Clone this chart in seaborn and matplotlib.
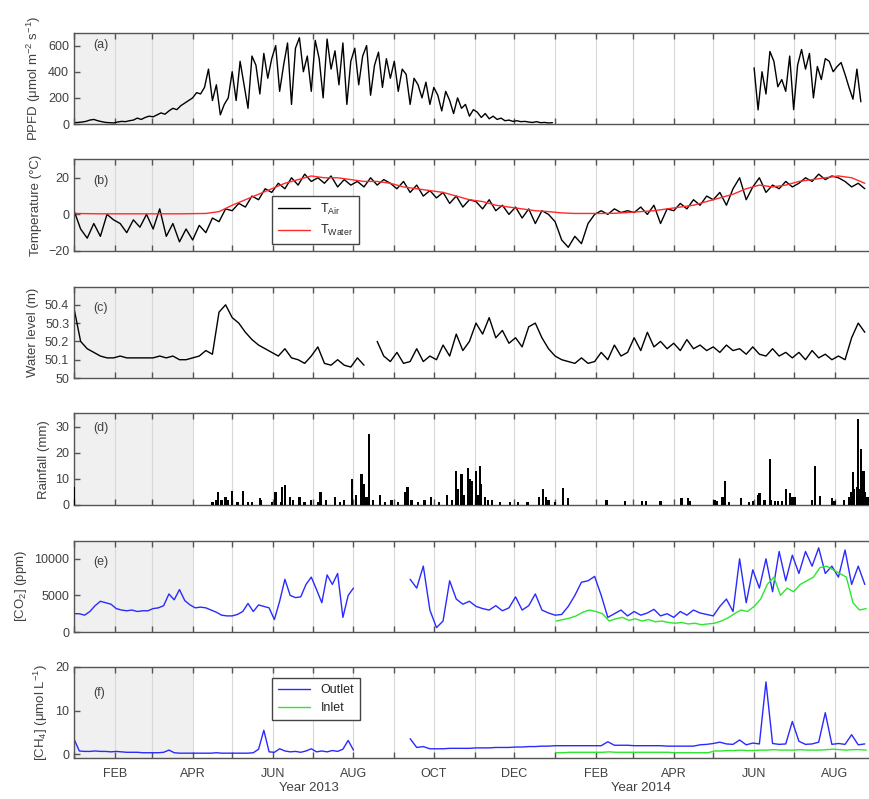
import numpy as np
import pandas as pd
import seaborn as sns
import matplotlib.pyplot as plt
import matplotlib.dates as mdates
from matplotlib.transforms import blended_transform_factory

start = pd.Timestamp('2013-01-01')

# (a) PPFD: 3-day values through 2013, 3-day values from 1 Jun 2014
ppfd_2013 = [10, 12, 15, 20, 30, 35, 25, 18, 12, 10, 8,
             15, 20, 18, 25, 30, 45, 35, 50, 60,
             55, 70, 85, 75, 100, 120, 110, 140, 160, 180, 200,
             240, 230, 280, 420, 180, 300, 70, 150, 200,
             400, 180, 480, 300, 120, 520, 450, 230, 540, 350, 500,
             600, 250, 450, 620, 150, 580, 660, 400, 520, 250,
             640, 500, 200, 650, 420, 560, 300, 620, 150, 480,
             580, 300, 520, 600, 220, 450, 550, 280, 500, 350,
             480, 250, 420, 380, 150, 350, 300, 200, 320, 150,
             280, 220, 100, 250, 180, 80, 200, 120, 150, 60, 110,
             90, 50, 80, 40, 60, 35, 45, 25, 30, 20,
             25, 18, 20, 15, 12, 18, 10, 12, 8, 10]
ppfd_2014 = [430, 108, 400, 230, 555, 480, 285, 340, 250, 520, 110, 450, 570, 420,
             540, 200, 440, 340, 500, 480, 400, 440, 470, 380, 280, 190, 420, 170]

# (b) temperature: air every 5 days, water every 10 days (from 1 Jan 2013)
t_air = [2, -8, -13, -5, -12, 0, -3,
         -5, -10, -3, -7, 0,
         -8, 3, -12, -5, -15, -8,
         -14, -6, -10, -2, -4, 3,
         2, 6, 4, 10, 8, 14, 12,
         17, 14, 20, 16, 22, 18,
         20, 17, 21, 15, 19, 16,
         18, 15, 20, 16, 19, 17,
         14, 18, 12, 16, 10, 13,
         9, 12, 6, 10, 4, 8,
         7, 3, 8, 2, 5, 0,
         4, -2, 3, -5, 2, 0,
         -4, -14, -18, -12, -16, -5, 0,
         2, 0, 3, 1, 2,
         1, 4, 0, 5, -5, 3,
         2, 6, 3, 8, 5, 10,
         8, 12, 5, 14, 20, 8, 15,
         20, 12, 16, 14, 18, 15,
         17, 20, 18, 22, 19, 21,
         20, 18, 15, 17, 14]
t_water = [0.5, 0.4, 0.3, 0.3, 0.3, 0.3, 0.3, 0.3, 0.3, 0.4, 0.5,
           1.5, 5, 8, 11, 14, 17, 19, 21, 20, 20, 19, 18, 18, 17, 15, 14, 13, 12, 10,
           8, 7, 5, 4, 3, 2, 1.5, 0.8, 0.5, 0.5, 0.5, 0.6, 1, 1.5, 2, 3, 4, 5, 7, 9,
           11, 14, 16, 15, 16, 18, 19, 20, 21, 20, 17]

# (c) water level every 5 days, gap in Aug 2013
wl_a = [50.38, 50.20, 50.16, 50.14, 50.12, 50.11, 50.11,
        50.12, 50.11, 50.11, 50.11, 50.11,
        50.11, 50.12, 50.11, 50.12, 50.10, 50.10,
        50.11, 50.12, 50.15, 50.13, 50.36, 50.40,
        50.33, 50.30, 50.25, 50.21, 50.18, 50.16, 50.14,
        50.12, 50.16, 50.11, 50.10, 50.08, 50.12,
        50.17, 50.08, 50.07, 50.10, 50.07, 50.06,
        50.11, 50.07]
wl_b = [50.20, 50.12, 50.09,
        50.14, 50.08, 50.09, 50.16, 50.09, 50.12,
        50.10, 50.18, 50.12, 50.24, 50.15, 50.20,
        50.30, 50.24, 50.33, 50.22, 50.26, 50.19,
        50.22, 50.17, 50.28, 50.30, 50.22, 50.16,
        50.12, 50.10, 50.09, 50.08, 50.11, 50.08, 50.09,
        50.14, 50.10, 50.18, 50.12, 50.14,
        50.22, 50.15, 50.25, 50.17, 50.20, 50.16,
        50.19, 50.15, 50.21, 50.16, 50.18, 50.15,
        50.17, 50.14, 50.18, 50.15, 50.16, 50.13, 50.17,
        50.13, 50.12, 50.16, 50.12, 50.14, 50.11,
        50.14, 50.10, 50.15, 50.11, 50.13, 50.10,
        50.12, 50.10, 50.22, 50.30, 50.25]

# (d) daily rainfall events (day number from 1 Jan 2013, mm)
rain_day = [0, 105, 108, 109, 112, 115, 117, 120, 124, 128, 132, 135, 141, 142, 150, 153,
            157, 158, 160, 164, 166, 171, 175, 180, 185, 187, 191, 198, 202, 205, 211, 214,
            218, 220, 222, 224, 227, 232, 236, 241, 246, 251, 253, 256, 261, 266, 271, 277,
            283, 287, 290, 291, 294, 296, 299, 300, 302, 305, 306, 308, 309, 312, 314, 317,
            323, 331, 337, 344, 353, 356, 358, 360, 365, 371, 375, 404, 418, 431, 434, 445,
            461, 466, 467, 486, 488, 492, 494, 497, 506, 512, 515, 519, 520, 524, 528, 529,
            532, 534, 537, 540, 543, 545, 547, 560, 562, 566, 575, 577, 584, 588, 590, 591,
            592, 594, 595, 596, 597, 599, 600, 602]
rain_mm = [7, 1, 2, 5, 2, 3, 2, 5.5, 1, 5.5, 1, 1, 2.5, 2, 1, 5,
           1, 7, 7.5, 3, 2, 3, 1, 2, 1, 5, 2, 3, 1, 2, 10, 4,
           12, 8, 3, 27, 2, 4, 1, 2, 1, 5, 7, 2, 1, 2, 3, 1,
           4, 2, 13, 6, 12, 4, 14, 10, 9, 13, 4, 15, 8, 3, 2, 2,
           1, 1, 1, 1, 3, 6, 3, 2, 1, 6.5, 2.5, 2, 1.5, 1.5, 1.5, 1.5,
           2.5, 2.5, 1.5, 2, 1.5, 3, 9, 1, 2.5, 1, 1.5, 4, 4.5, 2, 17.5, 2,
           1.5, 1.5, 1.5, 6, 4.5, 3, 3, 2, 15, 3.5, 2.5, 1.5, 2, 3, 5, 12.5,
           6, 7, 33, 6, 21.5, 13, 5, 3]

# (e) CO2 outlet (4-day to Aug 2013, 5-day from mid Sep), inlet 5-day from Jan 2014
co2_out_a = [2500, 2500, 2300, 2800, 3600, 4200, 4000, 3800, 3200, 3000,
             2900, 3000, 2800, 2900, 2900, 3200, 3300, 3600, 5200, 4400,
             5800, 4300, 3700, 3300, 3400, 3300, 3000, 2700, 2300, 2200,
             2200, 2400, 2800, 3900, 2800, 3700, 3500, 3300, 1700, 4200,
             7200, 5000, 4700, 4800, 6500, 7500, 5800, 4000, 7800, 6500,
             8000, 2000, 5000, 6000]
co2_out_b = [7200, 6000, 9000, 3000, 600, 1500, 7000, 4500, 3800, 4200,
             3500, 3200, 3000, 3600, 2900, 3300, 4800, 3000, 3600, 5200,
             3000, 2600, 2300, 2400, 3500, 5000, 6800, 7000, 7600, 5000,
             2000, 2500, 3000, 2200, 2800, 2300, 2600, 3100, 2200, 2500,
             2000, 2800, 2300, 3000, 2600, 2400, 2200, 3500, 4500, 2800,
             10000, 4000, 8500, 6000, 10000, 5500, 11000, 7000, 10500, 8000,
             11000, 9000, 11500, 8000, 9000, 7500, 11200, 6500, 9000, 6500]
co2_in = [1500, 1700, 1900, 2200, 2700, 3000, 2800, 2500, 1500, 1800,
          2000, 1600, 1800, 1500, 1700, 1400, 1500, 1300, 1200, 1300,
          1100, 1200, 1000, 1100, 1200, 1500, 1900, 2500, 3000, 2800,
          3500, 4500, 6500, 7500, 5000, 6000, 5500, 6500, 7000, 7500,
          8800, 9000, 8500, 8000, 7500, 4000, 3000, 3200]

# (f) CH4, same sampling as CO2
ch4_out_a = [3.5, 0.8, 0.7, 0.7, 0.8, 0.7, 0.7, 0.6, 0.7, 0.6,
             0.5, 0.5, 0.5, 0.4, 0.4, 0.4, 0.4, 0.5, 1.0, 0.4,
             0.3, 0.3, 0.3, 0.3, 0.3, 0.3, 0.3, 0.4, 0.3, 0.3,
             0.3, 0.3, 0.3, 0.3, 0.4, 1.2, 5.5, 0.6, 0.5, 1.3,
             0.8, 0.6, 0.7, 0.5, 0.8, 1.3, 0.6, 0.8, 0.6, 0.9,
             0.7, 1.2, 3.2, 1.0]
ch4_out_b = [3.6, 1.6, 1.8, 1.3, 1.3, 1.3, 1.4, 1.4, 1.4, 1.4,
             1.5, 1.5, 1.5, 1.6, 1.6, 1.6, 1.7, 1.7, 1.8, 1.8,
             1.9, 1.9, 2.0, 2.0, 2.0, 2.0, 2.0, 2.0, 2.0, 2.0,
             2.9, 2.1, 2.1, 2.1, 2.0, 2.0, 2.0, 2.0, 2.0, 1.9,
             1.9, 1.9, 1.9, 1.9, 2.2, 2.3, 2.5, 2.8, 2.4, 2.3,
             3.3, 2.2, 2.6, 2.4, 16.5, 2.5, 2.3, 2.4, 7.5, 3.0,
             2.3, 2.4, 2.8, 9.5, 2.3, 2.5, 2.3, 4.5, 2.2, 2.4]
ch4_in = [0.4, 0.4, 0.5, 0.5, 0.5, 0.5, 0.5, 0.5, 0.6, 0.5,
          0.5, 0.5, 0.5, 0.5, 0.5, 0.5, 0.5, 0.5, 0.4, 0.4,
          0.4, 0.4, 0.4, 0.4, 0.8, 0.8, 0.9, 0.9, 1.0, 0.9,
          0.9, 1.0, 1.0, 1.1, 1.0, 1.0, 1.0, 1.1, 1.0, 1.0,
          1.0, 1.1, 1.2, 1.1, 1.0, 1.1, 1.1, 1.0]


def series(first_day, step, vals):
    days = first_day + np.arange(len(vals)) * step
    return pd.DataFrame({'date': start + pd.to_timedelta(days, unit='D'), 'val': vals})


sns.set_style('ticks')
plt.rcParams['font.family'] = ['Liberation Sans', 'DejaVu Sans']
plt.rcParams['mathtext.fontset'] = 'custom'
plt.rcParams['mathtext.rm'] = 'Liberation Sans'
plt.rcParams['mathtext.it'] = 'Liberation Sans:italic'
plt.rcParams['mathtext.default'] = 'regular'
txt = '#404040'

BLUE, GREEN, RED = '#2a2aff', '#2ee62e', '#ff2a2a'
leg_kw = dict(loc='upper left', fancybox=False, edgecolor='#444444', fontsize=9,
              handlelength=2.6, framealpha=1, borderpad=0.45, borderaxespad=0)

fig = plt.figure(figsize=(8.7, 7.99), dpi=100)
bottoms = [0.8448, 0.6859, 0.5269, 0.3680, 0.2090, 0.0513]
axes = [fig.add_axes([0.0851, b, 0.915, 0.1145]) for b in bottoms]

ax = axes[0]
sns.lineplot(data=series(0, 3, ppfd_2013), x='date', y='val', ax=ax, color='black', lw=1)
sns.lineplot(data=series(516, 3, ppfd_2014), x='date', y='val', ax=ax, color='black', lw=1)
ax.set_ylim(0, 700)
ax.set_yticks([0, 200, 400, 600])
ax.set_ylabel('PPFD (μmol m$^{-2}$ s$^{-1}$)')

ax = axes[1]
sns.lineplot(data=series(0, 5, t_air), x='date', y='val', ax=ax, color='black', lw=1, label='T$_{Air}$')
sns.lineplot(data=series(0, 10, t_water), x='date', y='val', ax=ax, color=RED, lw=1, label='T$_{Water}$')
ax.set_ylim(-20, 30)
ax.set_yticks([-20, 0, 20])
ax.set_ylabel('Temperature (°C)')
ax.legend(bbox_to_anchor=(0.249, 0.60), **leg_kw)

ax = axes[2]
sns.lineplot(data=series(0, 5, wl_a), x='date', y='val', ax=ax, color='black', lw=1)
sns.lineplot(data=series(230, 5, wl_b), x='date', y='val', ax=ax, color='black', lw=1)
ax.set_ylim(50, 50.5)
ax.set_yticks([50, 50.1, 50.2, 50.3, 50.4])
ax.set_yticklabels(['50', '50.1', '50.2', '50.3', '50.4'])
ax.set_ylabel('Water level (m)')

ax = axes[3]
rain_dates = start + pd.to_timedelta(rain_day, unit='D')
ax.bar(rain_dates, rain_mm, width=1.8, color='black', lw=0, zorder=3)
ax.set_ylim(0, 35)
ax.set_yticks([0, 10, 20, 30])
ax.set_ylabel('Rainfall (mm)')

ax = axes[4]
sns.lineplot(data=series(0, 4, co2_out_a), x='date', y='val', ax=ax, color=BLUE, lw=1)
sns.lineplot(data=series(255, 5, co2_out_b), x='date', y='val', ax=ax, color=BLUE, lw=1)
sns.lineplot(data=series(366, 5, co2_in), x='date', y='val', ax=ax, color=GREEN, lw=1)
ax.set_ylim(0, 12500)
ax.set_yticks([0, 5000, 10000])
ax.set_ylabel('[CO$_2$] (ppm)')

ax = axes[5]
sns.lineplot(data=series(0, 4, ch4_out_a), x='date', y='val', ax=ax, color=BLUE, lw=1, label='Outlet')
sns.lineplot(data=series(255, 5, ch4_out_b), x='date', y='val', ax=ax, color=BLUE, lw=1)
sns.lineplot(data=series(366, 5, ch4_in), x='date', y='val', ax=ax, color=GREEN, lw=1, label='Inlet')
ax.set_ylim(-0.8, 20)
ax.set_yticks([0, 10, 20])
ax.set_ylabel('[CH$_4$] (μmol L$^{-1}$)')
ax.legend(bbox_to_anchor=(0.249, 0.87), **leg_kw)


def month_label(x, pos):
    d = mdates.num2date(x)
    return d.strftime('%b').upper() if d.month % 2 == 0 else ''


panel_y = [0.86, 0.76, 0.77, 0.84, 0.76, 0.71]
for ax, lab, py in zip(axes, 'abcdef', panel_y):
    ax.axvspan(pd.Timestamp('2013-01-01'), pd.Timestamp('2013-04-01'), color='#f0f0f0', zorder=0, lw=0)
    ax.set_xlim(pd.Timestamp('2013-01-01'), pd.Timestamp('2014-08-28'))
    ax.xaxis.set_major_locator(mdates.MonthLocator())
    ax.xaxis.set_major_formatter(plt.FuncFormatter(month_label))
    ax.grid(axis='x', color='#d8d8d8', lw=0.8, zorder=1)
    ax.set_axisbelow(True)
    ax.tick_params(direction='in', top=True, length=4, width=1, colors='#555555',
                   labelcolor=txt, labelsize=9)
    ax.tick_params(axis='x', pad=7)
    ax.set_xlabel('')
    ax.yaxis.label.set_color(txt)
    ax.yaxis.label.set_size(9.5)
    ax.spines['right'].set_visible(False)
    for s in ['left', 'top', 'bottom']:
        ax.spines[s].set_color('#555555')
        ax.spines[s].set_linewidth(1)
    ax.text(0.024, py, f'({lab})', transform=ax.transAxes, va='center', fontsize=9, color=txt)
    if ax is not axes[-1]:
        ax.tick_params(axis='x', labelbottom=False)

ax = axes[-1]
trans = blended_transform_factory(ax.transData, ax.transAxes)
ax.text(pd.Timestamp('2013-06-28'), -0.33, 'Year 2013', transform=trans, ha='center', va='center',
        fontsize=9.5, color=txt)
ax.text(pd.Timestamp('2014-03-07'), -0.33, 'Year 2014', transform=trans, ha='center', va='center',
        fontsize=9.5, color=txt)

fig.savefig('out.png', dpi=100)
